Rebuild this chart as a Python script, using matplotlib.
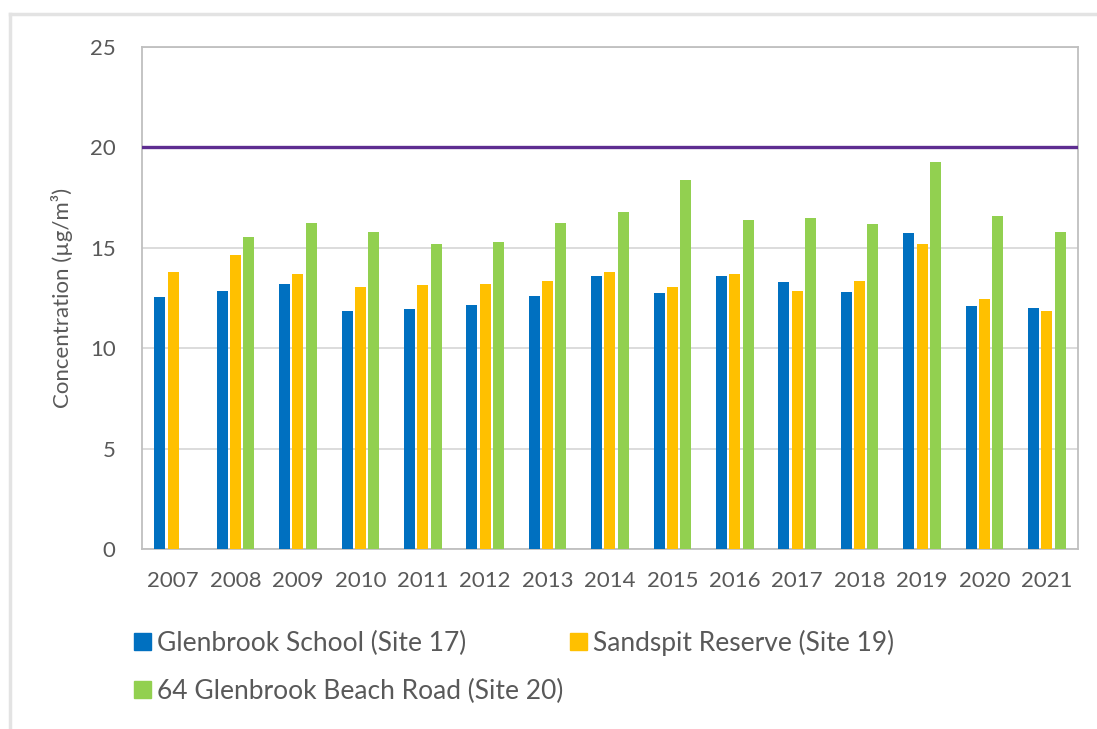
import numpy as np
import matplotlib
matplotlib.use('Agg')
import matplotlib.pyplot as plt
from matplotlib.lines import Line2D
from matplotlib.patches import Patch

plt.rcParams['font.family'] = ['Lato', 'DejaVu Sans']

years = ['2007', '2008', '2009', '2010', '2011', '2012', '2013', '2014',
         '2015', '2016', '2017', '2018', '2019', '2020', '2021']
site17 = [12.55, 12.85, 13.2, 11.85, 11.95, 12.15, 12.6, 13.6,
          12.75, 13.6, 13.3, 12.8, 15.75, 12.1, 12.0]
site19 = [13.8, 14.65, 13.7, 13.05, 13.15, 13.2, 13.35, 13.8,
          13.05, 13.7, 12.85, 13.35, 15.2, 12.45, 11.85]
site20 = [np.nan, 15.55, 16.25, 15.8, 15.2, 15.3, 16.25, 16.8,
          18.4, 16.4, 16.5, 16.2, 19.25, 16.6, 15.8]
labels = ['Glenbrook School (Site 17)', 'Sandspit Reserve (Site 19)',
          '64 Glenbrook Beach Road (Site 20)']
colors = ['#0070C0', '#FFC000', '#92D050']
guideline = 20

grey = '#595959'

fig = plt.figure(figsize=(10.97, 7.29), dpi=100)
ax = fig.add_axes([0.1294, 0.2469, 0.8533, 0.6886])

x = np.arange(len(years))
pitch = 0.213
width = 0.176
for i, (vals, c) in enumerate(zip([site17, site19, site20], colors)):
    ax.bar(x + (i - 1) * pitch, vals, width, color=c, zorder=3)

ax.axhline(guideline, color='#5E2D91', lw=2.4, zorder=4)

ax.set_xlim(-0.5, len(years) - 0.5)
ax.set_ylim(0, 25)
ax.set_yticks(range(0, 26, 5))
ax.set_xticks(x)
ax.set_xticklabels(years)
ax.yaxis.grid(True, color='#D9D9D9', lw=1.3, zorder=0)
ax.tick_params(length=0, labelsize=16, colors=grey, pad=16)
ax.tick_params(axis='y', pad=19)
for s in ax.spines.values():
    s.set_color('#BFBFBF')
    s.set_linewidth(1.3)

ax.set_ylabel('Concentration (µg/m³)', fontsize=16, color=grey, labelpad=12)

# legend entries laid out in two rows
pos = [(0.122, 0.118), (0.5196, 0.118), (0.122, 0.052)]
for lab, c, (px, py) in zip(labels, colors, pos):
    fig.legend(handles=[Patch(color=c, label=lab)], loc='center left',
               bbox_to_anchor=(px, py), frameon=False, fontsize=19,
               labelcolor=grey, handlelength=0.64, handleheight=0.64,
               handletextpad=0.23, borderpad=0, borderaxespad=0)

# outer frame strokes along top and left edges
fig.add_artist(Line2D([0.009, 1.0], [0.981, 0.981], color='#E3E3E3', lw=2.5,
                      transform=fig.transFigure))
fig.add_artist(Line2D([0.009, 0.009], [0.0, 0.981], color='#E3E3E3', lw=2.5,
                      transform=fig.transFigure))

fig.savefig('out.png', dpi=100)
